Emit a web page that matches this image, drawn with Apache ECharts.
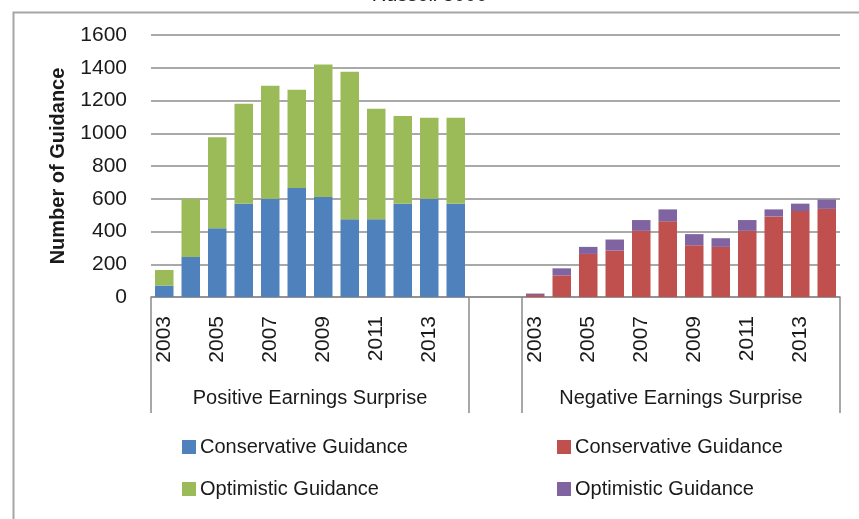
<!DOCTYPE html>
<html>
<head>
<meta charset="utf-8">
<script src="https://cdn.jsdelivr.net/npm/echarts@6/dist/echarts.min.js"></script>
<style>
html,body{margin:0;padding:0;background:#fff;}
#chart{width:859px;height:519px;}
</style>
</head>
<body>
<div id="chart"></div>
<script>
// ---- data ----
const years = ['2003','2004','2005','2006','2007','2008','2009','2010','2011','2012','2013','2014'];
const groupLabels = ['Positive Earnings Surprise', 'Negative Earnings Surprise'];
const yTicks = [0, 200, 400, 600, 800, 1000, 1200, 1400, 1600];
const posConservative = [70, 245, 420, 570, 600, 665, 610, 475, 475, 570, 600, 570];
const posOptimistic   = [95, 355, 555, 610, 690, 600, 810, 900, 675, 535, 495, 525];
const negConservative = [12, 132, 263, 283, 404, 462, 316, 306, 404, 492, 525, 538];
const negOptimistic   = [9, 43, 43, 68, 66, 73, 68, 53, 66, 43, 45, 57];
const legendNames = {
  posCons: 'Conservative Guidance', posOpt: 'Optimistic Guidance',
  negCons: 'Conservative Guidance', negOpt: 'Optimistic Guidance'
};

// ---- build ----
const gapCount = 2;
const blanks = new Array(gapCount).fill('');
const categories = years.concat(blanks, years);
const n = categories.length;
const posPart = arr => arr.concat(new Array(gapCount + years.length).fill(null));
const negPart = arr => new Array(years.length + gapCount).fill(null).concat(arr);

// group axis (points at category boundaries)
const groupAxisData = new Array(n + 1).fill('');
groupAxisData[years.length / 2] = groupLabels[0];
groupAxisData[years.length + gapCount + years.length / 2] = groupLabels[1];
const groupBoundaries = [0, years.length, years.length + gapCount, n];

const FONT = 'Liberation Sans';
const GRAY = '#8c8c8c';
const txt = '#1a1a1a';

const chart = echarts.init(document.getElementById('chart'), null, {renderer: 'canvas'});
chart.setOption({
  animation: false,
  backgroundColor: '#fff',
  textStyle: {fontFamily: FONT},
  title: {
    text: 'Russell 3000', left: 'center', top: -19.5,
    textStyle: {fontFamily: FONT, fontSize: 20, fontWeight: 'normal', color: txt}
  },
  graphic: [{
    type: 'rect', left: 11, top: 10, z: -10, silent: true,
    shape: {x: 0, y: 0, width: 1000, height: 1000},
    style: {fill: 'none', stroke: '#a6a6a6', lineWidth: 2}
  }],
  grid: {left: 151, right: 19, top: 35, bottom: 222, containLabel: false},
  legend: [{
    left: 177, top: 432, orient: 'vertical', itemGap: 22,
    itemWidth: 14, itemHeight: 14, icon: 'rect',
    data: ['posCons', 'posOpt'],
    formatter: name => legendNames[name],
    textStyle: {fontFamily: FONT, fontSize: 20, lineHeight: 20, color: txt, padding: [0, 0, 0, -1]}
  }, {
    left: 552, top: 432, orient: 'vertical', itemGap: 22,
    itemWidth: 14, itemHeight: 14, icon: 'rect',
    data: ['negCons', 'negOpt'],
    formatter: name => legendNames[name],
    textStyle: {fontFamily: FONT, fontSize: 20, lineHeight: 20, color: txt, padding: [0, 0, 0, -1]}
  }],
  xAxis: [{
    type: 'category', data: categories, position: 'bottom',
    axisLine: {show: true, lineStyle: {color: GRAY, width: 1.5}},
    axisTick: {show: false},
    axisLabel: {
      rotate: 90, margin: 19, fontFamily: FONT, fontSize: 21, color: txt,
      interval: (i, v) => v !== '' && (parseInt(v, 10) % 2 === 1)
    },
    splitLine: {show: false}
  }, {
    type: 'category', data: groupAxisData, boundaryGap: false, position: 'bottom',
    gridIndex: 0,
    axisLine: {show: false},
    axisTick: {
      show: true, length: 116, lineStyle: {color: GRAY, width: 1.5},
      interval: (i) => groupBoundaries.indexOf(i) >= 0
    },
    axisLabel: {
      interval: 0, margin: 91, fontFamily: FONT, fontSize: 20, color: txt,
      showMinLabel: true, showMaxLabel: true
    },
    splitLine: {show: false}
  }],
  yAxis: {
    type: 'value', min: yTicks[0], max: yTicks[yTicks.length - 1], interval: yTicks[1] - yTicks[0],
    name: 'Number of Guidance', nameLocation: 'middle', nameGap: 83, nameRotate: 90,
    nameTextStyle: {fontFamily: FONT, fontSize: 20, fontWeight: 'bold', color: txt},
    axisLine: {show: false}, axisTick: {show: false},
    axisLabel: {margin: 24, fontFamily: FONT, fontSize: 21, color: txt, formatter: v => String(v)},
    splitLine: {lineStyle: {color: GRAY, width: 1.5}}
  },
  series: [
    {name: 'posCons', type: 'bar', stack: 's', data: posPart(posConservative), itemStyle: {color: '#4f81bd'}, barWidth: 18.5},
    {name: 'posOpt', type: 'bar', stack: 's', data: posPart(posOptimistic), itemStyle: {color: '#9bbb59'}, barWidth: 18.5},
    {name: 'negCons', type: 'bar', stack: 's', data: negPart(negConservative), itemStyle: {color: '#c0504d'}, barWidth: 18.5},
    {name: 'negOpt', type: 'bar', stack: 's', data: negPart(negOptimistic), itemStyle: {color: '#8064a2'}, barWidth: 18.5}
  ]
});
</script>
</body>
</html>
